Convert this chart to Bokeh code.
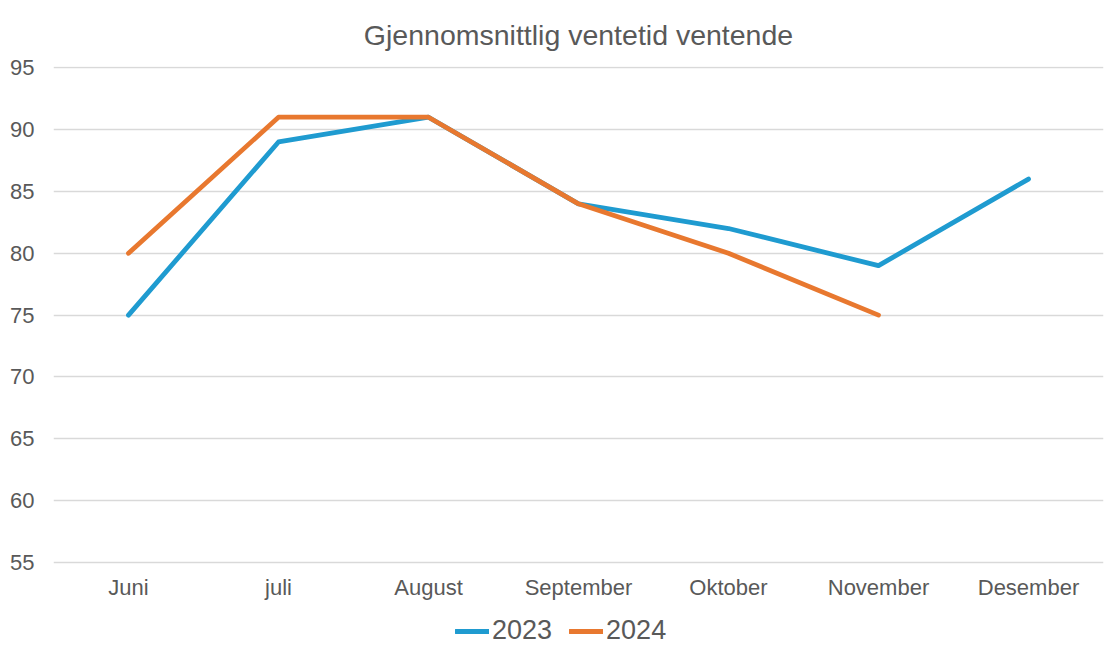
from bokeh.plotting import figure
from bokeh.models import FactorRange, Range1d, Legend, LegendItem, FixedTicker, CategoricalAxis
from bokeh.embed import file_html
from bokeh.resources import INLINE

months = ["Juni", "juli", "August", "September", "Oktober", "November", "Desember"]
v2023 = [75, 89, 91, 84, 82, 79, 86]
v2024 = [80, 91, 91, 84, 80, 75]
y_ticks = [55, 60, 65, 70, 75, 80, 85, 90, 95]

FONT = "Liberation Sans"
TXT = "#595959"
BLUE = "#1F9BD0"
ORANGE = "#E8782F"

# frame spans 66..648 px; ~12.375 px per unit
p = figure(width=1112, height=652, x_range=FactorRange(factors=months, range_padding=0),
           y_range=Range1d(48.05, 95.1), output_backend="svg", toolbar_location=None,
           x_axis_location=None,
           min_border_left=53, min_border_right=9, min_border_top=66, min_border_bottom=4)

p.title.text = "Gjennomsnittlig ventetid ventende"
p.title.align = "center"
p.title.vertical_align = "top"
p.title.text_font = FONT
p.title.text_font_size = "28.5px"
p.title.text_font_style = "normal"
p.title.text_color = TXT
p.title.standoff = 28

p.outline_line_color = None
p.xgrid.grid_line_color = None
p.ygrid.grid_line_color = "#D9D9D9"
p.ygrid.grid_line_width = 1.5
p.yaxis.ticker = FixedTicker(ticks=y_ticks)

xaxis = CategoricalAxis(fixed_location=55)
p.add_layout(xaxis, "below")

for ax in (xaxis, p.yaxis[0]):
    ax.axis_line_color = None
    ax.major_tick_line_color = None
    ax.minor_tick_line_color = None
    ax.major_label_text_font = FONT
    ax.major_label_text_font_size = "22px"
    ax.major_label_text_color = TXT
p.yaxis.major_label_standoff = 13
xaxis.major_label_standoff = 6

r1 = p.line(months, v2023, line_color=BLUE, line_width=4.8, line_join="round", line_cap="round")
r2 = p.line(months[:6], v2024, line_color=ORANGE, line_width=4.8, line_join="round", line_cap="round")

legend = Legend(items=[LegendItem(label="2023", renderers=[r1]), LegendItem(label="2024", renderers=[r2])],
                orientation="horizontal", location=(402, 2), padding=0, margin=0,
                spacing=17, glyph_width=34, label_standoff=3,
                label_text_font=FONT, label_text_font_size="27px", label_text_color=TXT,
                border_line_color=None, background_fill_alpha=0)
p.add_layout(legend, "center")

open("out.html", "w").write(file_html(p, INLINE))
